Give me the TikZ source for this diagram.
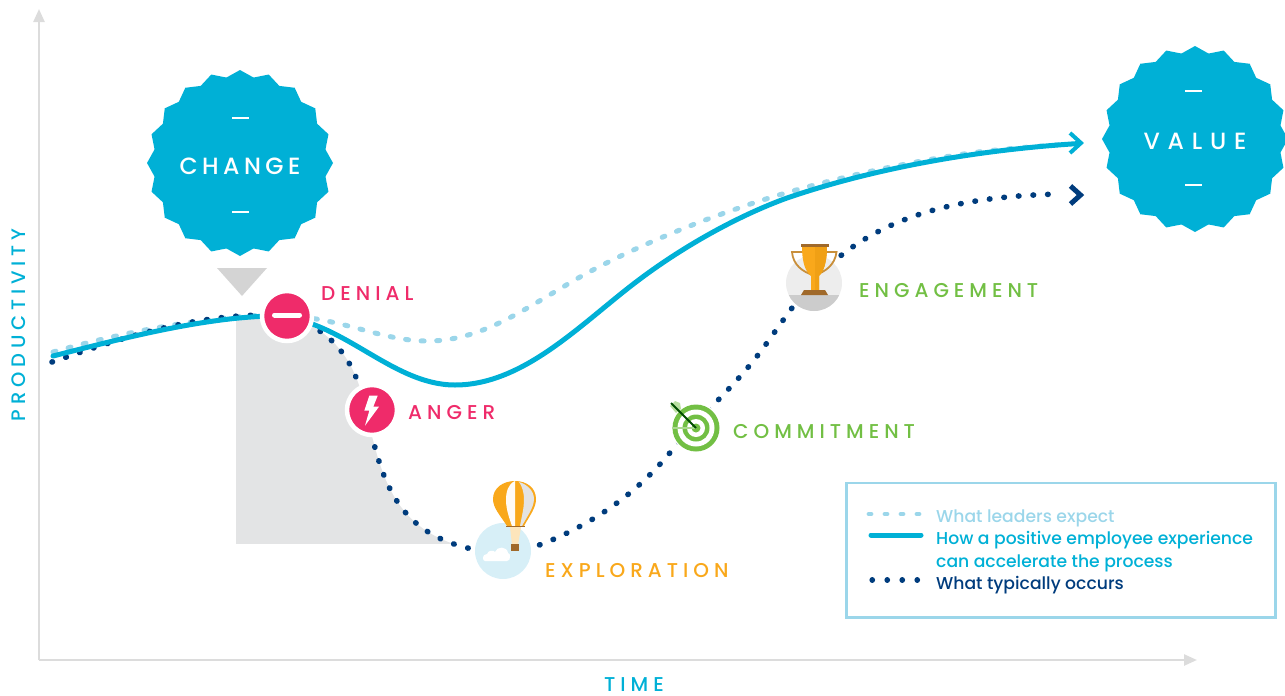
\documentclass[tikz,border=0pt]{standalone}
\usepackage{fontspec}
\setmainfont{Poppins Medium}
\newfontfamily\spaced[LetterSpace=25]{Poppins Medium}
\newfontfamily\spacedchg[LetterSpace=19]{Poppins Medium}
\newfontfamily\spacedval[LetterSpace=33]{Poppins Medium}
\usetikzlibrary{shapes.geometric,arrows.meta,calc}
\definecolor{cyanc}{HTML}{00B0D6}
\definecolor{navyc}{HTML}{003C7D}
\definecolor{lightc}{HTML}{9BD6EA}
\definecolor{pinkc}{HTML}{EF2B6A}
\definecolor{orangec}{HTML}{F9A81B}
\definecolor{orangedk}{HTML}{F0A015}
\definecolor{bronze}{HTML}{A0692A}
\definecolor{handle}{HTML}{C98F3A}
\definecolor{greenc}{HTML}{72BF44}
\definecolor{axisc}{HTML}{DCDCDC}
\definecolor{greyc}{HTML}{E3E4E5}
\tikzset{
  burst/.style={star,star points=20,star point ratio=1.075,minimum size=186pt,inner sep=0pt,fill=cyanc,draw=none,text=white},
  bursttick/.style={fill=white,minimum width=17pt,minimum height=2.4pt,inner sep=0pt},
  stagelabel/.style={anchor=west,inner sep=0pt,font=\spaced\fontsize{20}{22}\selectfont},
  badge/.style={circle,fill=pinkc,draw=white,line width=4.5pt,minimum size=50pt,inner sep=0pt},
  axisline/.style={axisc,line width=2.4pt,-{Triangle[length=13pt,width=11pt]}},
  expect/.style={lightc,line width=5pt,line cap=round,dash pattern=on 3pt off 12.6pt},
  accel/.style={cyanc,line width=5pt,line cap=round},
  occurs/.style={navyc,line width=5.6pt,line cap=round,dash pattern=on 0.5pt off 14.1pt},
  legendtext/.style={anchor=base west,inner sep=0pt,font=\fontsize{17.2}{20}\selectfont},
  axistitle/.style={cyanc,inner sep=0pt}
}
\begin{document}
\begin{tikzpicture}[x=1pt,y=-1pt]
\useasboundingbox (0,0) rectangle (1285,696);
% axes
\coordinate (origin) at (39,660);
\coordinate (ytop) at (39,9);
\coordinate (xend) at (1197,660);
\draw[axisline] (origin) -- (ytop);
\draw[axisline] (origin) -- (xend);
\node[axistitle,rotate=90,font=\spaced\fontsize{19.5}{22}\selectfont] (ytitle) at (18.500,325) {PRODUCTIVITY};
\node[axistitle,font=\spaced\fontsize{20}{22}\selectfont] (xtitle) at (634,684.500) {TIME};
% grey area
\begin{scope}
\clip (236,300) rectangle (520,543.500);
\fill[greyc] (236,316) -- (270,315) .. controls (320,318) and (350,350) .. (362,395) .. controls (380,465) and (385,530) .. (472,549) -- (236,549) -- cycle;
\end{scope}
% pointer triangle
\fill[black!17] (217,268) -- (267,268) -- (242,296) -- cycle;
% curves
\draw[expect] (53,352) .. controls (120,333) and (200,317) .. (270,315) .. controls (340,315) and (380,342) .. (430,341) .. controls (480,340) and (520,312) .. (563,287) .. controls (610,258) and (680,228) .. (736,209) .. controls (800,186) and (900,162) .. (982,151.500) .. controls (1015,148) and (1040,146) .. (1070,144);
\draw[occurs] (52,362) .. controls (110,342) and (190,314) .. (270,315) .. controls (320,318) and (350,350) .. (362,395) .. controls (380,465) and (385,530) .. (472,549) .. controls (500,555) and (520,552) .. (545,543) .. controls (600,520) and (640,490) .. (673,449) .. controls (695,422) and (725,395) .. (750,365) .. controls (775,335) and (800,290) .. (833,262) .. controls (880,222) and (945,196) .. (1062,194);
\draw[accel] (53,356) .. controls (120,339) and (200,318) .. (270,316) .. controls (340,316) and (390,385) .. (455,385) .. controls (520,385) and (575,330) .. (627,289) .. controls (680,247) and (740,215) .. (787,198) .. controls (860,173) and (960,151) .. (1079,143.500);
\coordinate (accelhead) at (1081,143);
\coordinate (occurhead) at (1080.500,195);
\draw[cyanc,line width=4pt] ($(accelhead)+(-11,-10)$) -- (accelhead) -- ($(accelhead)+(-11,10)$);
\draw[navyc,line width=5pt] ($(occurhead)+(-10,-9)$) -- (occurhead) -- ($(occurhead)+(-10,9)$);
% bursts
\node[burst,font=\spacedchg\fontsize{23.5}{24}\selectfont] (change) at (240,163) {\raisebox{-11.25pt}[0pt][0pt]{CHANGE}};
\node[bursttick] (changetop) at (240,118) {};
\node[bursttick] (changebot) at (240,212) {};
\node[burst,font=\spacedval\fontsize{23.5}{24}\selectfont] (value) at (1195,139) {\raisebox{-10.25pt}[0pt][0pt]{VALUE}};
\node[bursttick] (valuetop) at (1193.500,91) {};
\node[bursttick] (valuebot) at (1193.500,185) {};
% denial
\node[badge] (denial) at (287,316) {};
\draw[white,line width=5pt,line cap=round] (274.500,315) -- (299.500,315);
\node[stagelabel,pinkc] (denialt) at (321,293.500) {DENIAL};
% anger
\node[badge] (anger) at (372,410) {};
\fill[white] (369.300,395.700) -- (377.700,395.700) -- (373.300,406.700) -- (379,406.700) -- (365,425.700) -- (369.300,410.700) -- (364.300,410.700) -- cycle;
\node[stagelabel,pinkc] (angert) at (408,412.500) {ANGER};
% exploration
\node[circle,fill=lightc!40,minimum size=56pt,inner sep=0pt] (explo) at (503,551) {};
\fill[white] (485,561) .. controls (482,561) and (482,554) .. (487,554) .. controls (488,550) and (494,550) .. (495,552) .. controls (497,546) and (507,546) .. (508,553) .. controls (511,553) and (511,561) .. (507,561) -- cycle;
\fill[orangec!30!white] (510,527) -- (521,527) -- (518,545) -- (512,545) -- cycle;
\fill[orangec] (507,526) .. controls (500,515) and (493,508) .. (493,499) .. controls (493,488) and (503,481) .. (515,481) .. controls (527,481) and (536,488) .. (536,499) .. controls (536,508) and (530,515) .. (524,526) -- cycle;
\fill[white!96!orangec] (515,481) .. controls (508,484) and (506,492) .. (506,500) .. controls (506,510) and (510,520) .. (512,526) -- (515,526) -- cycle;
\fill[black!11] (519,482) .. controls (526,484) and (534,490) .. (534,499) .. controls (534,508) and (526,518) .. (522,526) -- (520,526) .. controls (522,515) and (524,508) .. (524,500) .. controls (524,492) and (522,486) .. (519,482) -- cycle;
\draw[bronze,line width=1.2pt] (506,526.500) -- (525,526.500);
\fill[bronze] (511,544) rectangle (519,551);
\node[stagelabel,orangec] (explot) at (545,570.500) {EXPLORATION};
% commitment
\node[circle,fill=white,minimum size=50pt,inner sep=0pt] (target) at (696,428) {};
\fill[greenc] (target.center) circle (23.500);
\fill[white] (target.center) circle (18.500);
\fill[greenc] (target.center) circle (13.500);
\fill[white] (target.center) circle (9);
\fill[greenc] (target.center) circle (4.500);
\draw[greenc!60!white,line width=1.2pt] (672,428) -- (target.center);
\fill[greenc!50!white] (670,406) -- (675,401) -- (680,403) -- (681,409) -- (676,413) -- cycle;
\draw[green!30!black,line width=1.8pt] (671,403) -- (target.center);
\node[stagelabel,greenc] (committ) at (733,431.500) {COMMITMENT};
% engagement
\node[circle,fill=black!7,minimum size=56pt,inner sep=0pt] (trophy) at (814,283) {};
\begin{scope}
\clip (814,283) circle (28);
\fill[black!20] (785,295) rectangle (843,312);
\end{scope}
\draw[handle,line width=1.8pt] (802,252) -- (792,252) .. controls (793,265) and (803,272) .. (813,275);
\draw[handle,line width=1.8pt] (826,252) -- (836.500,252) .. controls (835,265) and (825,272) .. (815,275);
\fill[orangec] (802,246) -- (827,246) .. controls (827,264) and (823,272) .. (819,276) -- (819,290) -- (811,290) -- (811,276) .. controls (806,272) and (802,264) .. (802,246) -- cycle;
\fill[orangedk] (815,246) -- (827,246) .. controls (827,264) and (823,272) .. (819,276) -- (819,290) -- (815,290) -- cycle;
\fill[bronze] (800.500,244) rectangle (828.500,246.500);
\fill[bronze] (804,290) -- (825,290) -- (828,295) -- (801,295) -- cycle;
\node[stagelabel,greenc] (engaget) at (859,290.500) {ENGAGEMENT};
% legend
\node[draw=lightc,line width=2.5pt,minimum width=429pt,minimum height=134.500pt,inner sep=0pt] (legend) at (1061,550) {};
\coordinate (la) at (869,514);
\coordinate (lae) at (920,514);
\coordinate (lb) at (871,535);
\coordinate (lbe) at (921,535);
\coordinate (lc) at (872,580);
\coordinate (lce) at (919,580);
\draw[lightc,line width=4.8pt,line cap=round,dash pattern=on 2pt off 14pt] (la) -- (lae);
\draw[accel] (lb) -- (lbe);
\draw[navyc,line width=5.2pt,line cap=round,dash pattern=on 0.5pt off 14.500pt] (lc) -- (lce);
\node[legendtext,lightc] (t1) at (936,522) {What leaders expect};
\node[legendtext,cyanc] (t2) at (936,544) {How a positive employee experience};
\node[legendtext,cyanc] (t3) at (936,567) {can accelerate the process};
\node[legendtext,navyc] (t4) at (936,589) {What typically occurs};
\end{tikzpicture}
\end{document}
